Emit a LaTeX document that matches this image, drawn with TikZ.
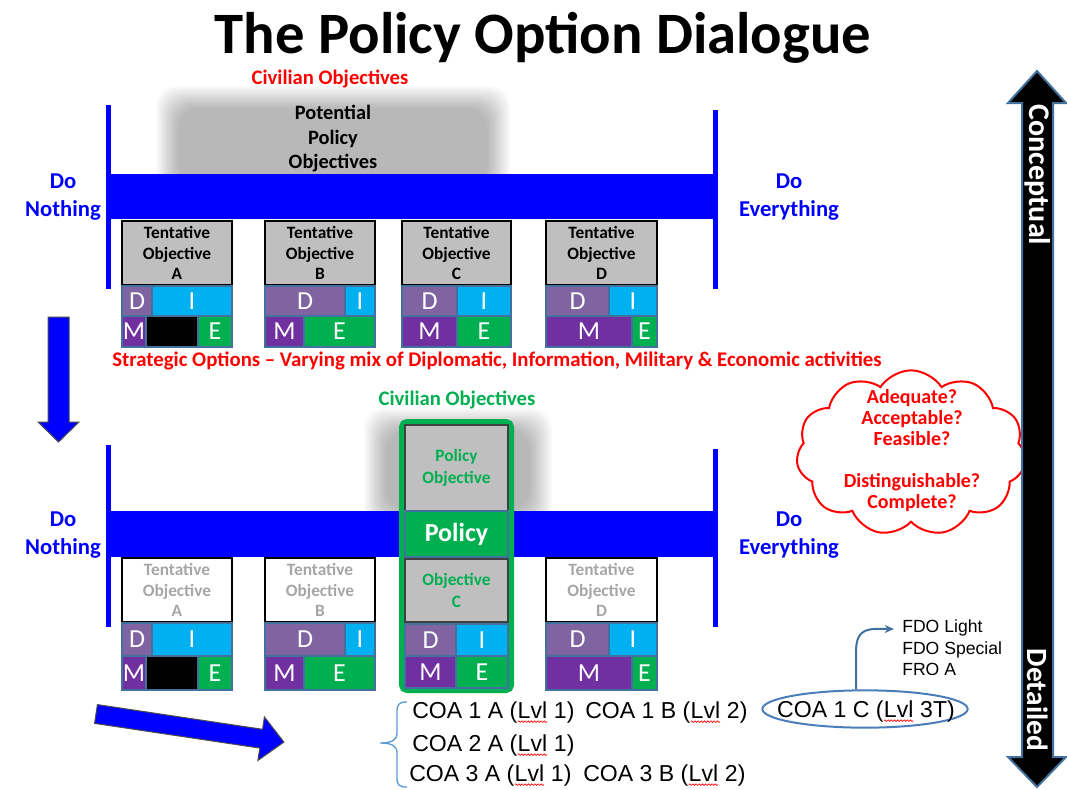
\documentclass[tikz,border=0pt]{standalone}
\usepackage{fontspec}
\setmainfont{Carlito}
\newfontfamily\arialf{Liberation Sans}
\usetikzlibrary{shapes.symbols,shapes.geometric,decorations.pathmorphing,arrows.meta,calc}
\definecolor{dblue}{HTML}{0000FF}
\definecolor{dgreen}{HTML}{00B050}
\definecolor{dpurp}{HTML}{8064A2}
\definecolor{mpurp}{HTML}{7030A0}
\definecolor{icyan}{HTML}{00B0F0}
\definecolor{sblue}{HTML}{41719C}
\definecolor{lgray}{HTML}{BFBFBF}
\definecolor{tgray}{HTML}{A6A6A6}
\definecolor{bracec}{HTML}{5B9BD5}
\definecolor{ellc}{HTML}{4A7EBB}
\newcommand\mybox[7]{%
 \node[inner sep=0pt, outer sep=0pt, minimum width={(#4-#2)*0.75pt}, minimum height={(#5-#3)*0.75pt}, #6] (#1) at ({(#2+#4)/2},{(#3+#5)/2}) {#7};}
\newcommand\dimeblock[8]{%
 \mybox{#1d}{#2}{#6}{#3}{#7}{dcD}{D}
 \mybox{#1i}{#3}{#6}{#5}{#7}{dcI}{I}
 \mybox{#1m}{#2}{#7}{#4}{#8}{dcM}{M}
 \mybox{#1e}{#4}{#7}{#5}{#8}{dcE}{E}}
\newcommand\dimeA[4]{%
 \mybox{#1d}{122}{#2}{152}{#3}{dcD}{D}
 \mybox{#1i}{152}{#2}{232}{#3}{dcI}{I}
 \mybox{#1m}{122}{#3}{146}{#4}{dcM}{M}
 \mybox{#1k}{146}{#3}{198}{#4}{dcK}{}
 \mybox{#1e}{198}{#3}{232}{#4}{dcE}{E}}
\newcommand\blurbox[4]{\foreach \k in {0,...,14}{\fill[black, opacity=0.02, rounded corners=15pt] ({#1+\k*1.6},{#2+\k*1.6}) rectangle ({#3-\k*1.6},{#4-\k*1.6});}}
\newcommand\lvl{\tikz[baseline=(lv.base)]{\node[shape=rectangle, draw=none, fill=none, minimum width=0pt, minimum height=0pt, anchor=center, inner sep=0pt, outer sep=0pt](lv){Lvl};\draw[red,line width=0.5pt,decorate,decoration={snake,amplitude=0.6pt,segment length=2.4pt}] ([yshift=-2pt]lv.south west) -- ([yshift=-2pt]lv.south east);}}
\tikzset{
 tent/.style={draw=black, line width=1.5pt, fill=lgray, align=center, font=\fontsize{13}{15.5}\selectfont\bfseries},
 tentw/.style={tent, fill=white, text=tgray},
 pobox/.style={draw=black!75, line width=1.2pt, fill=lgray, text=dgreen, align=center, font=\fontsize{13}{17}\selectfont\bfseries},
 dcell/.style={draw=sblue, line width=0.9pt, text=white, font=\fontsize{19.5}{19.5}\selectfont},
 dcD/.style={dcell, fill=dpurp}, dcI/.style={dcell, fill=icyan},
 dcM/.style={dcell, fill=mpurp}, dcE/.style={dcell, fill=dgreen}, dcK/.style={dcell, fill=black},
 dotext/.style={text=dblue, align=center, font=\fontsize{17}{21}\selectfont\bfseries},
 civ/.style={font=\fontsize{15.5}{18}\selectfont\bfseries},
 coa/.style={inner sep=0pt, anchor=west, font=\arialf\fontsize{17.3}{19}\selectfont},
}
\begin{document}
\begin{tikzpicture}[x=0.75pt,y=-0.75pt]
\useasboundingbox (0,0) rectangle (1067,789);
\fill[white] (0,0) rectangle (1067,789);
% title
\node[anchor=base, inner sep=0pt, font=\fontsize{44}{44}\selectfont\bfseries] (title) at (543,53) {The Policy Option Dialogue};

% ---------- top section
\blurbox{156}{86}{510}{205}
\node[civ, text=red] (civ1) at (330,79) {Civilian Objectives};
\node[align=center, font=\fontsize{15.3}{18.4}\selectfont\bfseries] (ppo) at (333,139) {Potential\\Policy\\Objectives};
\fill[dblue] (106,105) rectangle (111,289);
\fill[dblue] (713,110) rectangle (718,289);
\fill[dblue] (108,174) rectangle (716,219);
\node[dotext] (dn1) at (63,197) {Do\\Nothing};
\node[dotext] (de1) at (789,197) {Do\\Everything};
\mybox{ta1}{122}{221}{232}{285}{tent}{Tentative\\Objective\\A}
\mybox{tb1}{265}{221}{375}{285}{tent}{Tentative\\Objective\\B}
\mybox{tc1}{402}{221}{511}{285}{tent}{Tentative\\Objective\\C}
\mybox{td1}{546}{221}{657}{285}{tent}{Tentative\\Objective\\D}
\dimeA{a1}{286}{316}{347}
\dimeblock{b1}{265}{345}{304}{375}{286}{316}{347}
\dimeblock{c1}{402}{457}{457}{511}{286}{316}{347}
\dimeblock{d1}{546}{609}{632}{657}{286}{316}{347}
\node[text=red, font=\fontsize{15.6}{18}\selectfont\bfseries] (strat) at (497,361) {Strategic Options -- Varying mix of Diplomatic, Information, Military \& Economic activities};

% down arrow
\draw[fill=dblue, draw=black!70, line width=0.75pt] (48,317) -- (69,317) -- (69,422) -- (79,422) -- (58.5,442) -- (38,422) -- (48,422) -- cycle;

% ---------- bottom section
\blurbox{364}{408}{552}{532}
\fill[dblue] (106,445) rectangle (111,627);
\fill[dblue] (713,449) rectangle (718,627);
\fill[dblue] (108,511) rectangle (716,557);
\node[civ, text=dgreen] (civ2) at (457,400) {Civilian Objectives};
\node[dotext] (dn2) at (63,535) {Do\\Nothing};
\node[dotext] (de2) at (789,535) {Do\\Everything};
\mybox{ta2}{122}{558}{232}{622}{tentw}{Tentative\\Objective\\A}
\mybox{tb2}{265}{558}{375}{622}{tentw}{Tentative\\Objective\\B}
\mybox{td2}{546}{558}{657}{622}{tentw}{Tentative\\Objective\\D}
\dimeA{a2}{623}{656}{690}
\dimeblock{b2}{265}{345}{304}{375}{623}{656}{690}
\dimeblock{d2}{546}{609}{632}{657}{623}{656}{690}
\mybox{frame}{401.5}{421.5}{511.5}{690.5}{draw=dgreen, line width=3.75pt, rounded corners=4pt, fill=dgreen}{}
\mybox{po}{405}{425}{508}{511}{pobox}{Policy\\Objective}
\mybox{pol}{405}{511}{508}{557}{draw=sblue, line width=0.8pt, fill=dgreen, text=white, font=\fontsize{19.5}{20}\selectfont\bfseries}{Policy}
\mybox{oc}{405}{559}{508}{622}{pobox}{Objective\\C}
\dimeblock{c2}{405}{456}{456}{508}{624}{656}{688}

% cloud
\node[cloud, cloud puffs=11, cloud puff arc=115, cloud ignores aspect, draw=red, line width=1.5pt, fill=white, minimum width=172pt, minimum height=124pt, inner sep=0pt] (cloud) at (911,453) {};
\node[text=red, align=center, font=\fontsize{15}{15.75}\selectfont\bfseries] (cloudtxt) at (912,451) {Adequate?\\Acceptable?\\Feasible?\\[15.75pt]Distinguishable?\\Complete?};

% right double arrow
\draw[fill=black, draw=sblue, line width=1.5pt, line join=miter] (1037,71) -- (1066,103) -- (1053,103) -- (1053,757) -- (1066,757) -- (1037,787) -- (1008,757) -- (1022,757) -- (1022,103) -- (1008,103) -- cycle;
\node[rotate=-90, text=white, font=\fontsize{22.5}{24}\selectfont\bfseries] (concept) at (1038,175) {Conceptual};
\node[rotate=-90, text=white, font=\fontsize{22}{24}\selectfont\bfseries] (detail) at (1038,700) {Detailed};

% tilted blue arrow
\begin{scope}[shift={(96,714)}, rotate=-8.5]
\draw[fill=dblue, draw=black!70, line width=0.75pt] (0,-9.5) -- (167,-9.5) -- (167,-22) -- (190,0) -- (167,22) -- (167,9.5) -- (0,9.5) -- cycle;
\end{scope}

% brace
\draw[bracec, line width=1pt] (407,702) .. controls (399,702) and (397,704) .. (397,712) -- (397,733) .. controls (397,740) and (392,743) .. (380,743) .. controls (392,743) and (397,746) .. (397,753) -- (397,778) .. controls (397,785) and (399,787) .. (407,787);

% COA texts
\node[coa] (c1a) at (412,713) {COA 1 A (\lvl{} 1)};
\node[coa] (c1b) at (585,713) {COA 1 B (\lvl{} 2)};
\node[coa] (c2a) at (412,746) {COA 2 A (\lvl{} 1)};
\node[coa] (c3a) at (409,776) {COA 3 A (\lvl{} 1)};
\node[coa] (c3b) at (583,776) {COA 3 B (\lvl{} 2)};
\node[ellipse, draw=ellc, line width=1.5pt, minimum width=154pt, minimum height=28pt, inner sep=0pt] (ell) at (865,709) {};
\node[coa, anchor=center] (ellt) at (866,712) {COA 1 C (\lvl{} 3T)};
\node[anchor=west, align=left, inner sep=0pt, font=\arialf\fontsize{13.2}{16}\selectfont] (fdo) at (902,648) {FDO Light\\FDO Special\\FRO A};
\coordinate (fdotip) at (894,629);
\draw[sblue, line width=1.5pt, -{Stealth[length=7pt,width=6pt]}] ($(ell.north)+(-9,0)$) -- (856,652) .. controls (856,626) and (870,629) .. (fdotip);
\end{tikzpicture}
\end{document}
